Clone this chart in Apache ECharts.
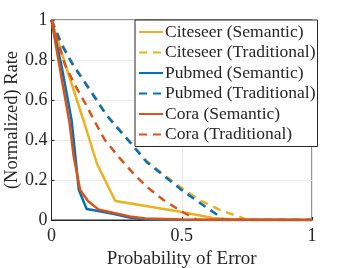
<!DOCTYPE html>
<html>
<head>
<meta charset="utf-8">
<script src="https://cdn.jsdelivr.net/npm/echarts@6/dist/echarts.min.js"></script>
<style>html,body{margin:0;padding:0;background:#fff}#c{width:346px;height:268px}</style>
</head>
<body>
<div id="c"></div>
<script>
const seriesNames = ['Citeseer (Semantic)','Citeseer (Traditional)','Pubmed (Semantic)','Pubmed (Traditional)','Cora (Semantic)','Cora (Traditional)'];

const citeseerSemX = [0, 0.06, 0.125, 0.175, 0.245, 0.35, 0.5, 0.62, 0.7, 1];
const citeseerSemY = [1, 0.75, 0.49, 0.28, 0.095, 0.072, 0.04, 0.01, 0.002, 0];

const citeseerTradX = [0, 0.04, 0.08, 0.17, 0.21, 0.3, 0.365, 0.436, 0.505, 0.575, 0.647, 0.724, 0.75, 1];
const citeseerTradY = [1, 0.88, 0.785, 0.61, 0.53, 0.395, 0.295, 0.222, 0.155, 0.095, 0.05, 0.015, 0, 0];

const pubmedSemX = [0, 0.04, 0.077, 0.105, 0.135, 0.18, 0.24, 0.3, 0.36, 0.45, 1];
const pubmedSemY = [1, 0.76, 0.5, 0.15, 0.055, 0.045, 0.03, 0.012, 0.003, 0, 0];

const pubmedTradX = [0, 0.04, 0.08, 0.17, 0.21, 0.3, 0.365, 0.436, 0.5, 0.57, 0.632, 0.66, 1];
const pubmedTradY = [1, 0.875, 0.78, 0.605, 0.525, 0.39, 0.29, 0.217, 0.15, 0.085, 0.03, 0, 0];

const coraSemX = [0, 0.04, 0.07, 0.085, 0.11, 0.14, 0.18, 0.24, 0.3, 0.36, 0.5, 1];
const coraSemY = [1, 0.7, 0.48, 0.32, 0.15, 0.095, 0.053, 0.035, 0.018, 0.008, 0.003, 0];

const coraTradX = [0, 0.025, 0.052, 0.09, 0.129, 0.167, 0.205, 0.257, 0.314, 0.365, 0.43, 0.5, 0.56, 1];
const coraTradY = [1, 0.89, 0.775, 0.675, 0.585, 0.49, 0.4, 0.317, 0.233, 0.167, 0.1, 0.042, 0, 0];

const xTicks = [0, 0.5, 1];
const yTicks = [0, 0.2, 0.4, 0.6, 0.8, 1];

const colors = ['#EDB120','#EDB120','#0072BD','#0072BD','#D95319','#D95319'];
const xs = [citeseerSemX, citeseerTradX, pubmedSemX, pubmedTradX, coraSemX, coraTradX];
const ys = [citeseerSemY, citeseerTradY, pubmedSemY, pubmedTradY, coraSemY, coraTradY];
const dashed = [false, true, false, true, false, true];

const font = "'Liberation Serif', 'Times New Roman', serif";
const chart = echarts.init(document.getElementById('c'), null, {renderer:'canvas'});
chart.setOption({
  animation: false,
  color: colors,
  textStyle: {fontFamily: font},
  grid: {left: 51.5, right: 34, top: 20, bottom: 48, show: true, borderColor: '#262626', borderWidth: 1,
         containLabel: false, outerBoundsMode: 'none'},
  legend: {
    orient: 'vertical', left: 135, top: 20,
    backgroundColor: '#fff', borderColor: '#262626', borderWidth: 1,
    padding: [3, 2, 3, 3], itemWidth: 24, itemHeight: 10, itemGap: 2.5,
    itemStyle: {opacity: 0},
    textStyle: {fontFamily: font, fontSize: 17.5, lineHeight: 17.5, color: '#262626', padding: [0,0,0,-3]},
    data: seriesNames
  },
  xAxis: {
    type: 'value', min: 0, max: 1, interval: 0.5,
    name: 'Probability of Error', nameLocation: 'middle', nameGap: 28,
    nameTextStyle: {fontFamily: font, fontSize: 19, color: '#262626'},
    axisLine: {show: true, lineStyle: {color: '#262626'}},
    axisTick: {show: true, inside: true, length: 3, lineStyle: {color: '#262626'}},
    axisLabel: {fontFamily: font, fontSize: 18, color: '#262626', margin: 7},
    splitLine: {show: true, lineStyle: {color: '#ebebeb'}}
  },
  yAxis: {
    type: 'value', min: 0, max: 1, interval: 0.2,
    name: '(Normalized) Rate', nameLocation: 'middle', nameGap: 30, nameMoveOverlap: false,
    nameTextStyle: {fontFamily: font, fontSize: 18.5, color: '#262626'},
    axisLine: {show: true, lineStyle: {color: '#262626'}},
    axisTick: {show: true, inside: true, length: 3, lineStyle: {color: '#262626'}},
    axisLabel: {fontFamily: font, fontSize: 18, color: '#262626', margin: 4},
    splitLine: {show: true, lineStyle: {color: '#ebebeb'}}
  },
  series: seriesNames.map((n, i) => ({
    name: n, type: 'line', showSymbol: false, symbol: 'none',
    data: xs[i].map((x, j) => [x, ys[i][j]]),
    lineStyle: {width: 2.5, color: colors[i], type: dashed[i] ? [8, 6] : 'solid'},
    itemStyle: {color: colors[i]},
    z: 2 + i
  }))
});
</script>
</body>
</html>
